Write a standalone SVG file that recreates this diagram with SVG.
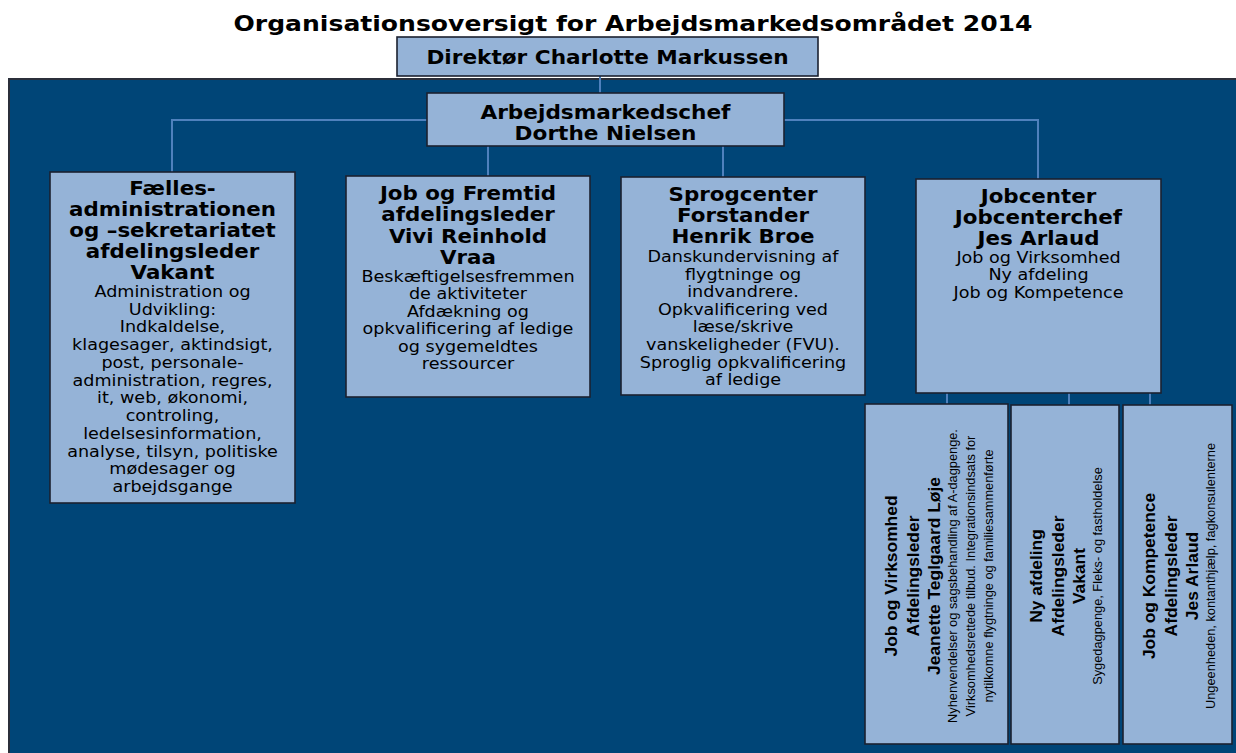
<svg xmlns="http://www.w3.org/2000/svg" width="1236" height="753" viewBox="0 0 1236 753">
<style>
.box{fill:#95b3d7;stroke:#1b2130;stroke-width:1.6}
.con{stroke:#4f81bd;stroke-width:2;fill:none}
.t{font-family:"DejaVu Sans",Verdana,sans-serif;fill:#000;text-anchor:middle}
.b{font-weight:bold}
.title{font-size:21.8px}
.h{font-size:18.8px}
.bb{font-size:18.6px}
.r{font-size:15.3px}
.v{font-family:"Liberation Sans",Arial,sans-serif;fill:#000;text-anchor:middle}
.vb{font-weight:bold;font-size:17.4px}
.vs{font-size:12.8px}
</style>
<rect x="0" y="0" width="1236" height="753" fill="#ffffff"/>
<g transform="translate(633 0) scale(1.15 1)"><text class="t b title" x="0" y="31">Organisationsoversigt for Arbejdsmarkedsområdet 2014</text></g>
<rect id="background" x="9" y="79" width="1232" height="680" fill="#004577" stroke="#2b2f3a" stroke-width="2"/>
<g id="connectors">
<line class="con" x1="600" y1="76" x2="600" y2="94"/>
<polyline class="con" points="427,120 172,120 172,172"/>
<polyline class="con" points="784,120 1038,120 1038,179"/>
<line class="con" x1="488" y1="146" x2="488" y2="176"/>
<line class="con" x1="723" y1="146" x2="723" y2="177"/>
<line class="con" x1="947" y1="393" x2="947" y2="404"/>
<line class="con" x1="1069" y1="393" x2="1069" y2="405"/>
<line class="con" x1="1150" y1="393" x2="1150" y2="405"/>
</g>
<g id="direktor">
<rect class="box" x="397" y="37" width="421" height="39"/>
<g transform="translate(607.5 0) scale(1.15 1)"><text class="t b h" x="0" y="64">Direktør Charlotte Markussen</text></g>
</g>
<g id="arbejdsmarkedschef">
<rect class="box" x="427" y="93" width="357" height="53"/>
<g transform="translate(605.5 0) scale(1.15 1)"><text class="t b h" x="0"><tspan x="0" y="119">Arbejdsmarkedschef</tspan><tspan x="0" y="140">Dorthe Nielsen</tspan></text></g>
</g>
<g id="faelles">
<rect class="box" x="50" y="172" width="245" height="331"/>
<g transform="translate(172.5 0) scale(1.15 1)">
<text class="t b bb"><tspan x="0" y="195">Fælles-</tspan><tspan x="0" y="216">administrationen</tspan><tspan x="0" y="237">og –sekretariatet</tspan><tspan x="0" y="258">afdelingsleder</tspan><tspan x="0" y="279">Vakant</tspan></text>
<text class="t r"><tspan x="0" y="297">Administration og</tspan><tspan x="0" y="314.75">Udvikling:</tspan><tspan x="0" y="332.5">Indkaldelse,</tspan><tspan x="0" y="350.25">klagesager, aktindsigt,</tspan><tspan x="0" y="368">post, personale-</tspan><tspan x="0" y="385.75">administration, regres,</tspan><tspan x="0" y="403.5">it, web, økonomi,</tspan><tspan x="0" y="421.25">controling,</tspan><tspan x="0" y="439">ledelsesinformation,</tspan><tspan x="0" y="456.75">analyse, tilsyn, politiske</tspan><tspan x="0" y="474.5">mødesager og</tspan><tspan x="0" y="492.25">arbejdsgange</tspan></text>
</g>
</g>
<g id="jobfremtid">
<rect class="box" x="346" y="176" width="244" height="221"/>
<g transform="translate(468 0) scale(1.15 1)">
<text class="t b bb"><tspan x="0" y="200">Job og Fremtid</tspan><tspan x="0" y="221.5">afdelingsleder</tspan><tspan x="0" y="243">Vivi Reinhold</tspan><tspan x="0" y="264">Vraa</tspan></text>
<text class="t r"><tspan x="0" y="282">Beskæftigelsesfremmen</tspan><tspan x="0" y="299.5">de aktiviteter</tspan><tspan x="0" y="317">Afdækning og</tspan><tspan x="0" y="334.5">opkvalificering af ledige</tspan><tspan x="0" y="352">og sygemeldtes</tspan><tspan x="0" y="369.5">ressourcer</tspan></text>
</g>
</g>
<g id="sprogcenter">
<rect class="box" x="621" y="177" width="244" height="218"/>
<g transform="translate(743 0) scale(1.15 1)">
<text class="t b bb"><tspan x="0" y="201">Sprogcenter</tspan><tspan x="0" y="222">Forstander</tspan><tspan x="0" y="243">Henrik Broe</tspan></text>
<text class="t r"><tspan x="0" y="262">Danskundervisning af</tspan><tspan x="0" y="279.6">flygtninge og</tspan><tspan x="0" y="297.2">indvandrere.</tspan><tspan x="0" y="314.8">Opkvalificering ved</tspan><tspan x="0" y="332.4">læse/skrive</tspan><tspan x="0" y="350">vanskeligheder (FVU).</tspan><tspan x="0" y="367.6">Sproglig opkvalificering</tspan><tspan x="0" y="385.2">af ledige</tspan></text>
</g>
</g>
<g id="jobcenter">
<rect class="box" x="916" y="179" width="245" height="214"/>
<g transform="translate(1038.5 0) scale(1.15 1)">
<text class="t b bb"><tspan x="0" y="203">Jobcenter</tspan><tspan x="0" y="224">Jobcenterchef</tspan><tspan x="0" y="245">Jes Arlaud</tspan></text>
<text class="t r"><tspan x="0" y="263">Job og Virksomhed</tspan><tspan x="0" y="280.5">Ny afdeling</tspan><tspan x="0" y="298">Job og Kompetence</tspan></text>
</g>
</g>
<g id="jobvirksomhed">
<rect class="box" x="865" y="404" width="143" height="340"/>
<text class="v vb" transform="translate(897 576) rotate(-90)" x="0" y="0">Job og Virksomhed</text>
<text class="v vb" transform="translate(918.5 576) rotate(-90)" x="0" y="0">Afdelingsleder</text>
<text class="v vb" transform="translate(940 576) rotate(-90)" x="0" y="0">Jeanette Teglgaard Løje</text>
<text class="v vs" transform="translate(957 576) rotate(-90)" x="0" y="0">Nyhenvendelser og sagsbehandling af A-dagpenge.</text>
<text class="v vs" transform="translate(975 576) rotate(-90)" x="0" y="0">Virksomhedsrettede tilbud. Integrationsindsats for</text>
<text class="v vs" transform="translate(993 576) rotate(-90)" x="0" y="0">nytilkomne flygtninge og familiesammenførte</text>
</g>
<g id="nyafdeling">
<rect class="box" x="1011" y="405" width="108" height="339"/>
<text class="v vb" transform="translate(1042 576) rotate(-90)" x="0" y="0">Ny afdeling</text>
<text class="v vb" transform="translate(1063.5 576) rotate(-90)" x="0" y="0">Afdelingsleder</text>
<text class="v vb" transform="translate(1085 576) rotate(-90)" x="0" y="0">Vakant</text>
<text class="v vs" transform="translate(1102 576) rotate(-90)" x="0" y="0">Sygedagpenge, Fleks- og fastholdelse</text>
</g>
<g id="jobkompetence">
<rect class="box" x="1123" y="405" width="109" height="339"/>
<text class="v vb" transform="translate(1155 576) rotate(-90)" x="0" y="0">Job og Kompetence</text>
<text class="v vb" transform="translate(1176.5 576) rotate(-90)" x="0" y="0">Afdelingsleder</text>
<text class="v vb" transform="translate(1198 576) rotate(-90)" x="0" y="0">Jes Arlaud</text>
<text class="v vs" transform="translate(1215 576) rotate(-90)" x="0" y="0">Ungeenheden, kontanthjælp, fagkonsulenterne</text>
</g>
</svg>
